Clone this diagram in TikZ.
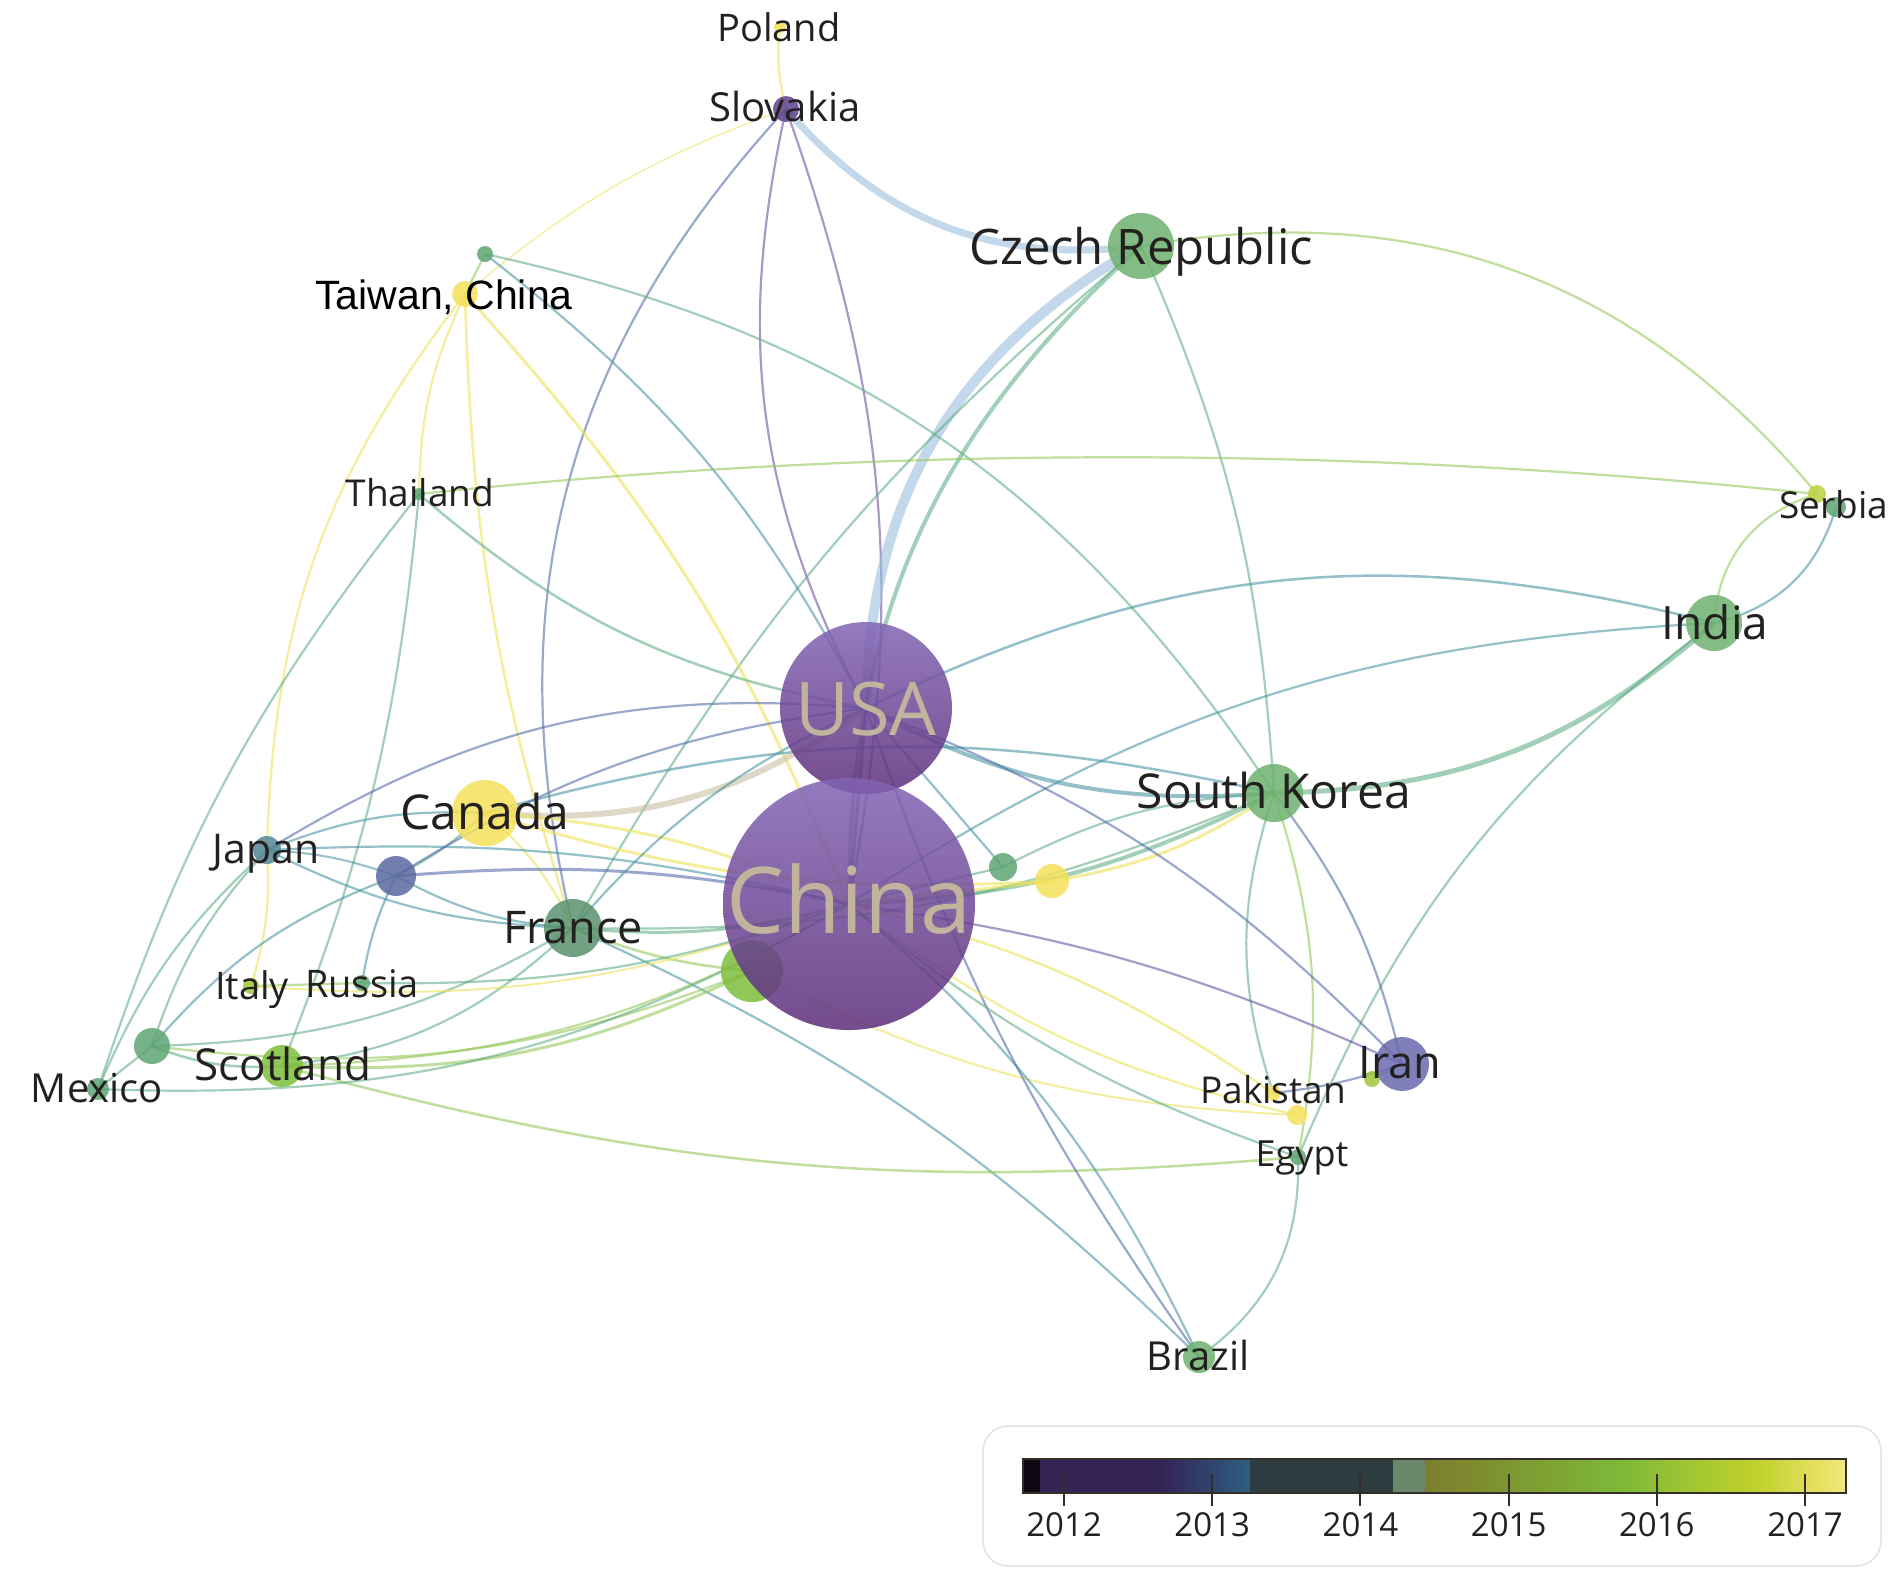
\documentclass[tikz,border=0pt]{standalone}
\usepackage{fontspec}
\setmainfont{Open Sans}
\newfontfamily\arialfont{Liberation Sans}
\usepackage{tikz}
\usetikzlibrary{backgrounds}
\definecolor{txtgray}{RGB}{36,32,32}
\definecolor{bigtxt}{RGB}{192,180,156}
\definecolor{purpletop}{RGB}{130,100,180}
\definecolor{purplebot}{RGB}{92,45,122}
\definecolor{slovak}{RGB}{95,65,140}
\definecolor{green1}{RGB}{110,178,112}
\definecolor{green2}{RGB}{95,165,115}
\definecolor{france}{RGB}{90,145,110}
\definecolor{yellow1}{RGB}{245,225,90}
\definecolor{bright}{RGB}{125,190,60}
\definecolor{teal1}{RGB}{85,135,150}
\definecolor{slate}{RGB}{90,105,160}
\definecolor{iran}{RGB}{105,105,175}
\definecolor{serbia}{RGB}{185,210,60}
\definecolor{ygreen}{RGB}{160,200,60}
\definecolor{e12}{RGB}{110,85,165}
\definecolor{e13}{RGB}{85,110,170}
\definecolor{e14}{RGB}{75,150,165}
\definecolor{e15}{RGB}{100,175,135}
\definecolor{e16}{RGB}{150,200,90}
\definecolor{e17}{RGB}{238,228,90}
\definecolor{esky}{RGB}{155,190,220}
\definecolor{etan}{RGB}{200,190,160}
\definecolor{boxline}{RGB}{226,226,226}
\definecolor{barline}{RGB}{55,45,40}
\newcommand{\lsize}[1]{\fontsize{#1}{#1}\selectfont}
\newcommand{\pxw}{0.4pt}
\tikzset{
  bubble/.style={circle, inner sep=0pt, fill=#1, fill opacity=0.85, draw=none},
  bigbubble/.style={circle, inner sep=0pt, top color=purpletop, bottom color=purplebot, fill opacity=0.85, draw=none},
  tag/.style={anchor=base, inner sep=0pt, text=txtgray},
  link/.style={draw=#1, line width=2.2*\pxw, draw opacity=0.6},
  yearlbl/.style={anchor=base, inner sep=0pt, text=txtgray, font=\lsize{33}}
}

\begin{document}
\begin{tikzpicture}[scale=0.4, x=1pt, y=-1pt, every node/.append style={transform shape}]
\useasboundingbox (0,0) rectangle (1903,1587);

\node[bubble=yellow1, minimum size=12pt] (poland) at (780,27) {};
\node[bubble=slovak, minimum size=26pt] (slovakia) at (786,109) {};
\node[bubble=green1, minimum size=66pt] (czech) at (1141,246) {};
\node[bubble=green2, minimum size=16pt] (dotA) at (485,254) {};
\node[bubble=yellow1, minimum size=26pt] (taiwan) at (465,294) {};
\node[bubble=green2, minimum size=12pt] (thailand) at (419,494) {};
\node[bubble=serbia, minimum size=18pt] (serbia) at (1817,494) {};
\node[bubble=green2, minimum size=20pt] (dotB) at (1836,507) {};
\node[bubble=green1, minimum size=56pt] (india) at (1714,623) {};
\node[bubble=green1, minimum size=58pt] (korea) at (1274,793) {};
\node[bubble=yellow1, minimum size=66pt] (canada) at (485,813) {};
\node[bubble=teal1, minimum size=28pt] (japan) at (267,850) {};
\node[bubble=slate, minimum size=40pt] (dotC) at (396,876) {};
\node[bubble=france, minimum size=58pt] (france) at (573,928) {};
\node[bubble=bright, minimum size=62pt] (dotD) at (752,971) {};
\node[bubble=green2, minimum size=28pt] (dotE) at (1003,867) {};
\node[bubble=yellow1, minimum size=34pt] (dotF) at (1052,881) {};
\node[bubble=ygreen, minimum size=16pt] (italy) at (251,986) {};
\node[bubble=green2, minimum size=16pt] (russia) at (362,983) {};
\node[bubble=green2, minimum size=36pt] (dotG) at (152,1046) {};
\node[bubble=green2, minimum size=22pt] (mexico) at (98,1089) {};
\node[bubble=bright, minimum size=42pt] (scotland) at (282,1066) {};
\node[bubble=iran, minimum size=54pt] (iran) at (1402,1064) {};
\node[bubble=ygreen, minimum size=16pt] (dotH) at (1372,1079) {};
\node[bubble=yellow1, minimum size=16pt] (pakistan) at (1273,1093) {};
\node[bubble=yellow1, minimum size=20pt] (dotI) at (1297,1115) {};
\node[bubble=green2, minimum size=16pt] (egypt) at (1298,1157) {};
\node[bubble=green1, minimum size=32pt] (brazil) at (1199,1357) {};
\node[bigbubble, minimum size=172pt] (usa) at (866,708) {};
\node[bigbubble, minimum size=252pt] (china) at (849,904) {};

\begin{scope}[on background layer]
\fill[white] (0,0) rectangle (1903,1587);
\draw[link=e17] (poland.center) to[bend right=10] (slovakia.center);
\draw[link=esky, line width=7*\pxw] (slovakia.center) to[bend right=28] (czech.center);
\draw[link=e12] (slovakia.center) to[bend right=20] (usa.center);
\draw[link=e12] (slovakia.center) to[bend left=15] (china.center);
\draw[link=e13] (slovakia.center) to[bend right=28] (france.center);
\draw[link=e17, line width=1.4*\pxw] (slovakia.center) to[bend right=10] (taiwan.center);
\draw[link=esky, line width=10*\pxw] (czech.center) to[bend right=30] (usa.center);
\draw[link=e15, line width=4*\pxw] (czech.center) to[bend right=24] (china.center);
\draw[link=e16] (czech.center) to[bend left=30] (serbia.center);
\draw[link=e15] (czech.center) to[bend left=10] (korea.center);
\draw[link=e15] (czech.center) to[bend right=10] (france.center);
\draw[link=e16] (dotA.center) to (taiwan.center);
\draw[link=e15] (dotA.center) to[bend left=22] (korea.center);
\draw[link=e14] (dotA.center) to[bend left=12] (usa.center);
\draw[link=e17, line width=3*\pxw] (taiwan.center) to[bend left=10] (china.center);
\draw[link=e17] (taiwan.center) to[bend right=12] (thailand.center);
\draw[link=e17, line width=2.5*\pxw] (taiwan.center) to[bend right=8] (france.center);
\draw[link=e17] (taiwan.center) to[bend right=18] (japan.center);
\draw[link=e15, line width=2.5*\pxw] (thailand.center) to[bend right=15] (usa.center);
\draw[link=e16] (thailand.center) .. controls (885,445) and (1351,445) .. (serbia.center);
\draw[link=e15] (thailand.center) to[bend right=10] (mexico.center);
\draw[link=e15] (thailand.center) to[bend left=8] (scotland.center);
\draw[link=e16] (serbia.center) to[bend right=35] (india.center);
\draw[link=e14] (dotB.center) to[bend left=30] (india.center);
\draw[link=e15, line width=5*\pxw] (india.center) to[bend left=20] (korea.center);
\draw[link=e14, line width=2.5*\pxw] (india.center) to[bend right=20] (usa.center);
\draw[link=e14] (india.center) to[bend right=15] (china.center);
\draw[link=e15] (india.center) to[bend right=15] (egypt.center);
\draw[link=e15, line width=4*\pxw] (korea.center) to[bend left=12] (china.center);
\draw[link=e14, line width=4*\pxw] (korea.center) to[bend left=16] (usa.center);
\draw[link=e17, line width=3*\pxw] (korea.center) to[bend left=12] (dotF.center);
\draw[link=e13] (korea.center) to[bend left=12] (iran.center);
\draw[link=e15] (korea.center) to[bend right=18] (pakistan.center);
\draw[link=e16] (korea.center) to[bend left=14] (egypt.center);
\draw[link=e14, line width=2.5*\pxw] (korea.center) to[bend right=14] (canada.center);
\draw[link=e15] (korea.center) to[bend right=12] (dotE.center);
\draw[link=e15] (korea.center) to[bend left=12] (france.center);
\draw[link=etan, line width=6*\pxw] (canada.center) to[bend right=20] (usa.center);
\draw[link=e17, line width=3*\pxw] (canada.center) to[bend left=10] (china.center);
\draw[link=e14] (canada.center) to[bend right=12] (japan.center);
\draw[link=e15] (canada.center) to[bend left=8] (dotC.center);
\draw[link=e17] (canada.center) to[bend left=12] (france.center);
\draw[link=e17, line width=3*\pxw] (canada.center) to[bend right=10] (dotF.center);
\draw[link=e14, line width=2*\pxw] (japan.center) to[bend left=8] (dotC.center);
\draw[link=e14] (japan.center) to[bend right=12] (france.center);
\draw[link=e15] (japan.center) to[bend right=12] (dotG.center);
\draw[link=e17] (japan.center) to[bend left=10] (italy.center);
\draw[link=e13] (japan.center) to[bend left=18] (usa.center);
\draw[link=e14] (japan.center) to[bend left=8] (china.center);
\draw[link=e13, line width=3*\pxw] (dotC.center) to[bend left=8] (china.center);
\draw[link=e13] (dotC.center) to[bend left=12] (usa.center);
\draw[link=e14] (dotC.center) to[bend right=12] (france.center);
\draw[link=e14] (dotC.center) to[bend right=8] (russia.center);
\draw[link=e14] (dotC.center) to[bend right=14] (dotG.center);
\draw[link=e15, line width=3*\pxw] (france.center) to[bend right=10] (china.center);
\draw[link=e14] (france.center) to[bend left=12] (usa.center);
\draw[link=e14] (france.center) to[bend left=10] (brazil.center);
\draw[link=e15] (france.center) to[bend left=18] (scotland.center);
\draw[link=e15] (france.center) to[bend left=14] (dotG.center);
\draw[link=e16, line width=3*\pxw] (dotD.center) to[bend left=14] (scotland.center);
\draw[link=e16] (dotD.center) to[bend left=14] (dotG.center);
\draw[link=e16, line width=2.5*\pxw] (dotD.center) to[bend left=8] (france.center);
\draw[link=e17, line width=2*\pxw] (dotD.center) to[bend right=12] (dotI.center);
\draw[link=e16] (italy.center) to (russia.center);
\draw[link=e17, line width=2*\pxw] (italy.center) to[bend right=12] (china.center);
\draw[link=e15] (russia.center) to[bend right=10] (china.center);
\draw[link=e15, line width=2.5*\pxw] (scotland.center) to[bend left=12] (dotG.center);
\draw[link=e15] (mexico.center) to (dotG.center);
\draw[link=e15] (mexico.center) to[bend left=12] (japan.center);
\draw[link=e16] (scotland.center) to[bend right=14] (china.center);
\draw[link=e16, line width=2.5*\pxw] (scotland.center) to[bend right=10] (egypt.center);
\draw[link=e15] (mexico.center) to[bend right=16] (china.center);
\draw[link=e12] (iran.center) to[bend right=8] (china.center);
\draw[link=e13] (iran.center) to[bend right=12] (usa.center);
\draw[link=e13] (iran.center) to[bend left=6] (pakistan.center);
\draw[link=e16] (iran.center) to (dotH.center);
\draw[link=e14] (brazil.center) to[bend right=12] (china.center);
\draw[link=e13] (brazil.center) to[bend left=8] (usa.center);
\draw[link=e15] (brazil.center) to[bend right=28] (egypt.center);
\draw[link=e17, line width=2.5*\pxw] (pakistan.center) to[bend right=10] (china.center);
\draw[link=e17] (dotI.center) to[bend left=12] (china.center);
\draw[link=e15] (egypt.center) to[bend left=10] (china.center);
\draw[link=e12, line width=3*\pxw] (usa.center) to (china.center);
\draw[link=e17, line width=3*\pxw] (dotF.center) to (china.center);
\draw[link=e15] (dotE.center) to (china.center);
\draw[link=e14] (dotE.center) to (usa.center);
\end{scope}

\node[tag, font=\lsize{38}] (poland-t) at (779,41) {Poland};
\node[tag, font=\lsize{40}] (slovakia-t) at (785,121) {Slovakia};
\node[tag, font=\lsize{49}] (czech-t) at (1141,264) {Czech Republic};
\node[tag, font=\arialfont\lsize{41}, text=black] (taiwan-t) at (444,309) {Taiwan, China};
\node[tag, font=\lsize{37}] (thailand-t) at (420,506) {Thailand};
\node[tag, font=\lsize{37}] (serbia-t) at (1834,518) {Serbia};
\node[tag, font=\lsize{46}] (india-t) at (1715,639) {India};
\node[tag, font=\lsize{74}, text=bigtxt] (usa-t) at (866,735) {USA};
\node[tag, font=\lsize{92}, text=bigtxt] (china-t) at (849,933) {China};
\node[tag, font=\lsize{48}] (korea-t) at (1274,808) {South Korea};
\node[tag, font=\lsize{48}] (canada-t) at (485,829) {Canada};
\node[tag, font=\lsize{41}] (japan-t) at (266,863) {Japan};
\node[tag, font=\lsize{45}] (france-t) at (573,943) {France};
\node[tag, font=\lsize{38}] (italy-t) at (252,999) {Italy};
\node[tag, font=\lsize{38}] (russia-t) at (362,997) {Russia};
\node[tag, font=\lsize{40}] (mexico-t) at (97,1102) {Mexico};
\node[tag, font=\lsize{44}] (scotland-t) at (283,1080) {Scotland};
\node[tag, font=\lsize{45}] (iran-t) at (1400,1078) {Iran};
\node[tag, font=\lsize{37}] (pakistan-t) at (1273,1103) {Pakistan};
\node[tag, font=\lsize{36}] (egypt-t) at (1302,1166) {Egypt};
\node[tag, font=\lsize{40}] (brazil-t) at (1198,1370) {Brazil};

\draw[boxline, line width=1.5*\pxw, rounded corners=10pt] (983,1426) rectangle (1881,1566);
\fill[black!85!purplebot] (1023,1459) rectangle (1040,1493);
\fill[fill={rgb,255:red,52;green,35;blue,85}] (1040,1459) rectangle (1160,1493);
\shade[left color={rgb,255:red,52;green,35;blue,85}, right color={rgb,255:red,45;green,95;blue,130}] (1160,1459) rectangle (1250,1493);
\fill[fill={rgb,255:red,45;green,60;blue,62}] (1250,1459) rectangle (1393,1493);
\fill[fill={rgb,255:red,105;green,135;blue,105}] (1393,1459) rectangle (1425,1493);
\shade[left color={rgb,255:red,125;green,125;blue,45}, right color={rgb,255:red,125;green,185;blue,55}] (1425,1459) rectangle (1620,1493);
\shade[left color={rgb,255:red,125;green,185;blue,55}, right color={rgb,255:red,195;green,210;blue,45}] (1620,1459) rectangle (1760,1493);
\shade[left color={rgb,255:red,195;green,210;blue,45}, right color={rgb,255:red,245;green,232;blue,125}] (1760,1459) rectangle (1846,1493);
\draw[barline, line width=2.5*\pxw] (1023,1459) rectangle (1846,1493);
\foreach \yr [count=\i from 0] in {2012,...,2017} {
  \draw[barline, line width=2*\pxw] (1064+148.2*\i,1474) -- ++(0,32);
  \node[yearlbl] (yr\yr) at (1064+148.2*\i,1536) {\yr};
}
\end{tikzpicture}
\end{document}
